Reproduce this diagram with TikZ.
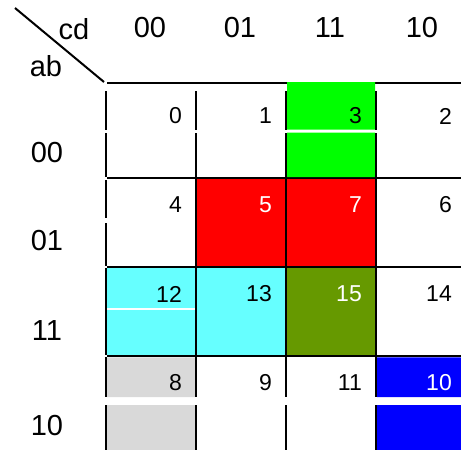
\documentclass[tikz,border=0pt]{standalone}
\usepackage{fontspec}
\setmainfont{Liberation Sans}
\usetikzlibrary{positioning}

\definecolor{kgreen}{RGB}{0,255,0}
\definecolor{kred}{RGB}{255,0,0}
\definecolor{kcyan}{RGB}{102,255,255}
\definecolor{kolive}{RGB}{102,153,0}
\definecolor{kgray}{RGB}{217,217,217}
\definecolor{kblue}{RGB}{0,0,255}

\begin{document}
\begin{tikzpicture}[x=1pt, y=-1pt,
    gridline/.style={line width=2.6pt},
    cellnum/.style={anchor=east, inner sep=0pt, font=\fontsize{23}{25}\selectfont},
    hdr/.style={inner sep=0pt, font=\fontsize{29}{31}\selectfont}]
  \useasboundingbox (0,0) rectangle (461,450);

  % grid rows
  \foreach \y in {83,178,267,356}
    \draw[gridline] (107,\y) -- (461,\y);

  % groups
  \fill[kgreen] (287,82) rectangle (375,129.5) (287,132.5) rectangle (375,177);
  \fill[kred] (197,179.4) rectangle (375,265.6);
  \fill[kcyan] (107,268.4) rectangle (285,354.6);
  \fill[white] (107,308) rectangle (196,310);
  \fill[kolive] (287,268.4) rectangle (375,354.6);
  \fill[kgray] (107,357.4) rectangle (195,397) (107,405) rectangle (195,450);
  \fill[kblue] (377,357.4) rectangle (461,397) (377,405) rectangle (461,450);

  % grid columns
  \foreach \x in {106,196,286,376} {
    \draw[gridline] (\x,91) -- (\x,129.5) (\x,133) -- (\x,177);
    \draw[gridline] (\x,268.4) -- (\x,354.6);
    \draw[gridline] (\x,357.4) -- (\x,397) (\x,405) -- (\x,450);
  }
  \foreach \x in {196,286,376}
    \draw[gridline] (\x,179.4) -- (\x,265.6);
  \draw[gridline] (106,180) -- (106,218) (106,223) -- (106,265.6);

  % minterm numbers
  \foreach \n/\c/\r/\col in {0/0/0/black, 1/1/0/black, 3/2/0/black, 2/3/0/black,
      4/0/1/black, 5/1/1/white, 7/2/1/white, 6/3/1/black,
      12/0/2/black, 13/1/2/black, 15/2/2/white, 14/3/2/black,
      8/0/3/black, 9/1/3/black, 11/2/3/black, 10/3/3/white}
    \node[cellnum, text=\col] (m\n) at ({182+90*\c}, {116+89*\r}) {\n};

  % headers
  \coordinate (diagA) at (15,8);
  \coordinate (diagB) at (104,82);
  \draw[line width=2pt] (diagA) -- (diagB);
  \node[hdr] (cd) at (74,29.5) {cd};
  \node[hdr] (ab) at (46,66) {ab};
  \foreach \t/\x in {00/150, 01/240, 11/330, 10/422}
    \node[hdr] (col\t) at (\x,28) {\t};
  \foreach \t/\y in {00/153, 01/241, 11/331, 10/426}
    \node[hdr] (row\t) at (47,\y) {\t};
\end{tikzpicture}
\end{document}
